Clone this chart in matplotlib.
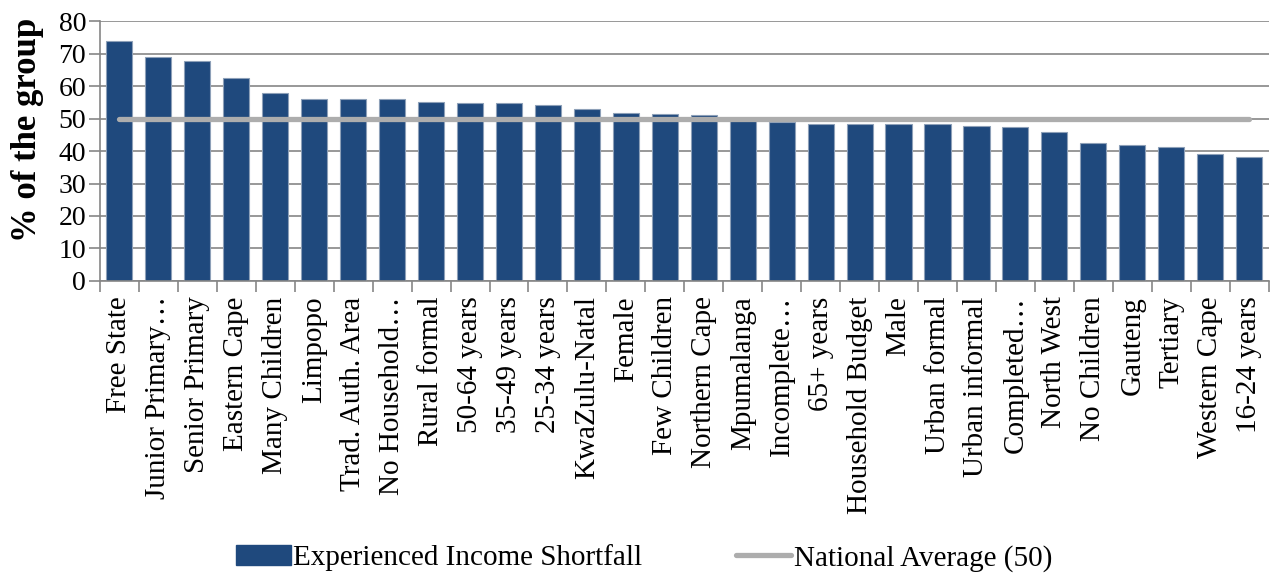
import matplotlib.pyplot as plt
import numpy as np
from matplotlib.lines import Line2D
from matplotlib.patches import Patch

# ---------------------------------------------------------------------------
# Data
# ---------------------------------------------------------------------------
categories = [
    'Free State', 'Junior Primary…', 'Senior Primary', 'Eastern Cape',
    'Many Children', 'Limpopo', 'Trad. Auth. Area', 'No Household…',
    'Rural formal', '50-64 years', '35-49 years', '25-34 years',
    'KwaZulu-Natal', 'Female', 'Few Children', 'Northern Cape',
    'Mpumalanga', 'Incomplete…', '65+ years', 'Household Budget', 'Male',
    'Urban formal', 'Urban informal', 'Completed…', 'North West',
    'No Children', 'Gauteng', 'Tertiary', 'Western Cape', '16-24 years',
]
shortfall = [
    74.0, 68.8, 67.7, 62.4, 57.9, 56.1, 56.1, 55.9, 55.1, 54.7,
    54.7, 54.2, 53.0, 51.8, 51.5, 51.1, 49.8, 48.8, 48.4, 48.4,
    48.3, 48.2, 47.6, 47.3, 45.9, 42.5, 41.9, 41.3, 39.0, 38.3,
]
national_average = 50
y_ticks = [0, 10, 20, 30, 40, 50, 60, 70, 80]

BAR_COLOR = '#1F497D'
BAR_EDGE = '#8DA0B8'
AVG_COLOR = '#ADADAD'
GRID_COLOR = '#868686'

plt.rcParams['font.family'] = ['Liberation Serif', 'DejaVu Serif']

fig = plt.figure(figsize=(12.75, 5.77), dpi=100)
ax = fig.add_axes([0.0784, 0.513, 0.9166, 0.4506])

x = np.arange(len(categories))
ax.bar(x, shortfall, width=0.67, color=BAR_COLOR, edgecolor=BAR_EDGE,
       linewidth=0.8, zorder=2)
ax.plot([x[0], x[-1]], [national_average] * 2, color=AVG_COLOR,
        linewidth=3.8, solid_capstyle='round', zorder=3)

ax.set_xlim(-0.5, len(categories) - 0.5)
ax.set_ylim(0, 80)
ax.set_yticks(y_ticks)
ax.set_yticklabels([str(v) for v in y_ticks], fontsize=20)
ax.yaxis.grid(True, color=GRID_COLOR, linewidth=1.2, zorder=0)
ax.set_axisbelow(True)

# category labels at centres, tick marks at category boundaries
ax.set_xticks(x)
ax.set_xticklabels(categories, rotation=90, fontsize=21)
ax.tick_params(axis='x', which='major', length=0, pad=11)
ax.set_xticks(np.arange(-0.5, len(categories)), minor=True)
ax.tick_params(axis='x', which='minor', length=8, width=1.2, color=GRID_COLOR,
               direction='out')
ax.tick_params(axis='y', length=8, width=1.2, color=GRID_COLOR, pad=2)

for side in ['top', 'right']:
    ax.spines[side].set_visible(False)
for side in ['left', 'bottom']:
    ax.spines[side].set_color(GRID_COLOR)
    ax.spines[side].set_linewidth(1.2)

ax.set_ylabel('% of the group', fontsize=25, fontweight='bold')
ax.yaxis.set_label_coords(-0.048, 0.58)

handles = [
    Patch(facecolor=BAR_COLOR, edgecolor=BAR_COLOR),
    Line2D([0], [0], color=AVG_COLOR, linewidth=3.8, solid_capstyle='round'),
]
fig.legend(handles, ['Experienced Income Shortfall', 'National Average (50)'],
           loc='center', bbox_to_anchor=(0.505, 0.033), ncol=2, frameon=False,
           fontsize=21, handlelength=1.9, handleheight=0.65,
           handletextpad=0.08, columnspacing=3.2)

fig.savefig('out.png', dpi=100)
